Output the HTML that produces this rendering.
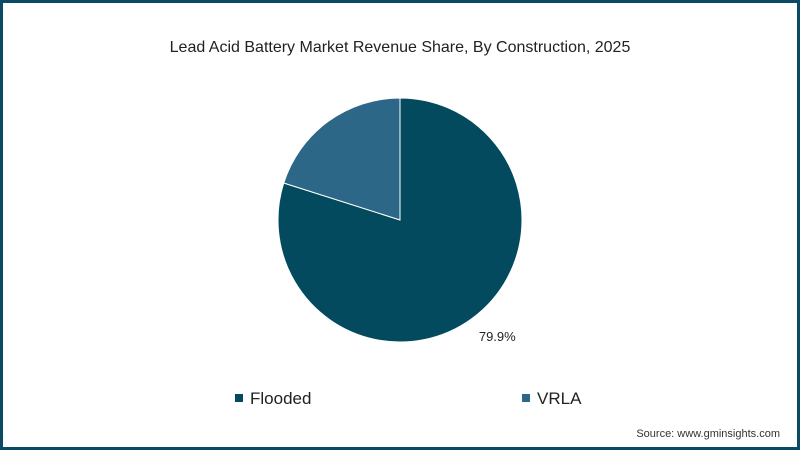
<!DOCTYPE html>
<html><head><meta charset="utf-8"><style>
html,body{margin:0;padding:0;}
body{width:800px;height:450px;position:relative;background:#fff;font-family:"Liberation Sans",sans-serif;overflow:hidden;}
#frame{position:absolute;left:0;top:0;width:794px;height:444px;border:3px solid #0b4a62;}
</style></head><body>
<div id="frame"></div>
<svg width="800" height="450" style="position:absolute;left:0;top:0">
<text x="400" y="52" text-anchor="middle" font-size="16" fill="#222">Lead Acid Battery Market Revenue Share, By Construction, 2025</text>
<g id="pie"></g>
<g>
<rect x="235" y="394" width="8" height="8" fill="#044a5e"/>
<text x="250" y="404" font-size="17" fill="#222">Flooded</text>
<rect x="522" y="394" width="8" height="8" fill="#2c6787"/>
<text x="537" y="404" font-size="17" fill="#222">VRLA</text>
</g>
<text x="780" y="437" text-anchor="end" font-size="11" fill="#333">Source: www.gminsights.com</text>
</svg>
<script>
const categories = ["Flooded","VRLA"];
const values = [79.9, 20.1];
const labels = ["79.9%", ""];
const colors = ["#044a5e","#2c6787"];
const cx=400, cy=220, r=122;
const g=document.getElementById('pie');
const total=values.reduce((a,b)=>a+b,0);
let a0=0;
function pt(a,rr){return [cx+rr*Math.sin(a), cy-rr*Math.cos(a)];}
values.forEach((v,i)=>{
  const a1=a0+v/total*2*Math.PI;
  const p0=pt(a0,r), p1=pt(a1,r);
  const large=(a1-a0)>Math.PI?1:0;
  const p=document.createElementNS('http://www.w3.org/2000/svg','path');
  p.setAttribute('d',`M${cx},${cy}L${p0[0]},${p0[1]}A${r},${r} 0 ${large} 1 ${p1[0]},${p1[1]}Z`);
  p.setAttribute('fill',colors[i]);
  p.setAttribute('stroke','#fff');
  p.setAttribute('stroke-width','1');
  
  
  g.appendChild(p);
  if(labels[i]){
    const mid=(a0+a1)/2;
    const lp=pt(mid,r+14);
    const t=document.createElementNS('http://www.w3.org/2000/svg','text');
    t.setAttribute('x',lp[0]+17);t.setAttribute('y',lp[1]+11);
    t.setAttribute('font-size','13');t.setAttribute('fill','#222');
    t.setAttribute('text-anchor','middle');
    t.textContent=labels[i];
    
    
    g.appendChild(t);
  }
  a0=a1;
});
</script>
</body></html>
